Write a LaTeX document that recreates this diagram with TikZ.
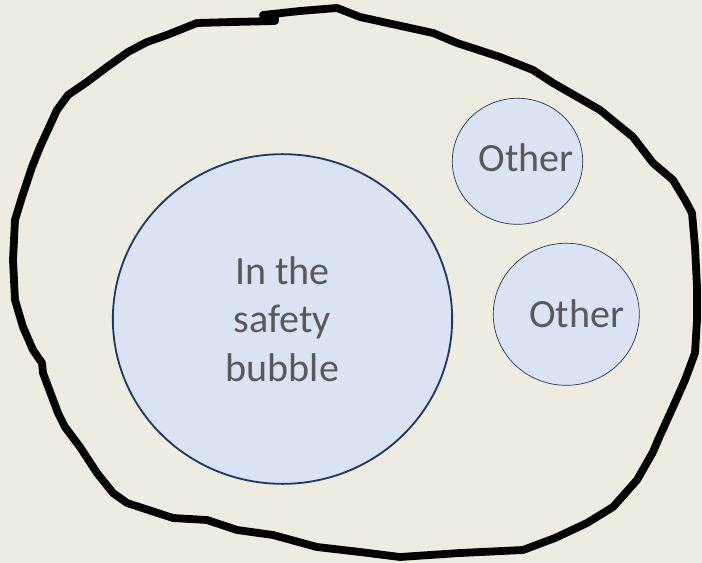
\documentclass[tikz,border=0pt]{standalone}
\usepackage{fontspec}
\setmainfont{Carlito}
\usetikzlibrary{shapes.geometric}
\definecolor{tanbg}{HTML}{EEECE1}
\definecolor{bubblefill}{HTML}{DAE3F3}
\definecolor{bubbleline}{HTML}{1F3864}
\definecolor{textgrey}{HTML}{595959}
\tikzset{
  handline/.style   ={draw=black, line width=0.195cm, line join=round, line cap=round},
  safebubble/.style ={ellipse, draw=bubbleline, fill=bubblefill, line width=1.3pt,
                      minimum width=8.48cm, minimum height=8.24cm, inner sep=0pt,
                      align=center, text=textgrey,
                      font=\fontsize{28.5}{34.6}\selectfont},
  otherbubble/.style={ellipse, draw=bubbleline, fill=bubblefill, line width=0.5pt,
                      inner sep=0pt},
  lbl/.style        ={anchor=base, inner sep=0pt, text=textgrey,
                      font=\fontsize{28.5}{34.6}\selectfont},
}

\begin{document}
\begin{tikzpicture}[x=0.025cm, y=-0.025cm]

% ---------------- canvas ----------------
\fill[tanbg] (0,0) rectangle (702,563);
\useasboundingbox (0,0) rectangle (702,563);

% ---------------- hand drawn boundary ----------------
\draw[handline] (13,260) -- (15,220) -- (22,197) -- (32,167) -- (40,147) -- (57,110)
  -- (68,95) -- (87,82) -- (107,67) -- (128,52) -- (147,42) -- (167,35) -- (197,23)
  -- (233,22) -- (275,21) -- (275,17) -- (263,15) -- (300,11) -- (337,8) -- (360,17)
  -- (433,33) -- (457,43) -- (500,57) -- (533,70) -- (553,83) -- (600,110) -- (633,137)
  -- (653,163) -- (673,180) -- (685,200) -- (692,213) -- (695,247) -- (697,287)
  -- (697,320) -- (695,353) -- (685,380) -- (673,407) -- (658,440) -- (653,452)
  -- (637,480) -- (613,507) -- (587,523) -- (555,538) -- (523,550) -- (460,553)
  -- (400,557) -- (360,552) -- (317,547) -- (273,535) -- (237,530) -- (207,520)
  -- (173,518) -- (127,503) -- (113,493) -- (97,473) -- (80,447) -- (65,427) -- (58,413)
  -- (43,373) -- (42,363) -- (33,350) -- (23,327) -- (15,300) -- cycle;

% ---------------- bubbles ----------------
\node[safebubble] (safe) at (282.5,319) {In the\\safety\\bubble};
\node[otherbubble, minimum width=3.26cm, minimum height=3.15cm] (other1) at (517.5,161.3) {};
\node[otherbubble, minimum width=3.65cm, minimum height=3.55cm] (other2) at (566.3,314.3) {};

% ---------------- labels ----------------
\node[lbl] (other1lbl) at (526,171.7) {Other};
\node[lbl] (other2lbl) at (576.5,328) {Other};

\end{tikzpicture}
\end{document}
